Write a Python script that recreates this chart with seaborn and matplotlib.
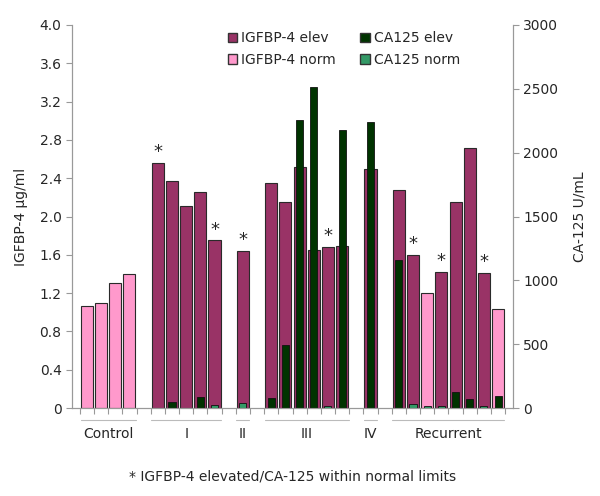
import numpy as np
import pandas as pd
import matplotlib
matplotlib.use("Agg")
import matplotlib.pyplot as plt
import matplotlib.transforms as mtransforms
from matplotlib.patches import Patch
import seaborn as sns

# 數據：每個樣本在 x 軸上的位置（組間留一格空白）
slots = [0, 1, 2, 3,
         5, 6, 7, 8, 9,
         11,
         13, 14, 15, 16, 17, 18,
         20,
         22, 23, 24, 25, 26, 27, 28, 29]
igfbp4 = [1.07, 1.10, 1.31, 1.40,
          2.56, 2.37, 2.11, 2.26, 1.75,
          1.64,
          2.35, 2.15, 2.52, 1.65, 1.68, 1.69,
          2.50,
          2.28, 1.60, 1.20, 1.42, 2.15, 2.72, 1.41, 1.03]
igfbp4_status = ["norm"] * 4 + ["elev"] * 13 + \
                ["elev", "elev", "norm", "elev", "elev", "elev", "elev", "norm"]
ca125 = [np.nan, np.nan, np.nan, np.nan,
         np.nan, 47, np.nan, 88, 23,
         37,
         78, 491, 2253, 2517, 15, 2175,
         2240,
         1159, 34, 18, 13, 123, 68, 13, 91]
ca125_status = ["norm"] * 4 + \
               ["norm", "elev", "norm", "elev", "norm"] + \
               ["norm"] + \
               ["elev", "elev", "elev", "elev", "norm", "elev"] + \
               ["elev"] + \
               ["elev", "norm", "norm", "norm", "elev", "elev", "norm", "elev"]
starred = [5, 9, 11, 17, 23, 25, 28]

groups = ["Control", "I", "II", "III", "IV", "Recurrent"]
group_ranges = [(0, 3), (5, 9), (11, 11), (13, 18), (20, 20), (22, 29)]

left_ticks = [0, 0.4, 0.8, 1.2, 1.6, 2.0, 2.4, 2.8, 3.2, 3.6, 4.0]
left_labels = ["0", "0.4", "0.8", "1.2", "1.6", "2.0", "2.4", "2.8", "3.2", "3.6", "4.0"]
right_ticks = [0, 500, 1000, 1500, 2000, 2500, 3000]

df = pd.DataFrame({"slot": slots, "igfbp4": igfbp4, "igfbp4_status": igfbp4_status,
                   "ca125": ca125, "ca125_status": ca125_status})

sns.set_style("white")
plt.rcParams["font.family"] = ["DejaVu Sans"]
plt.rcParams["font.size"] = 10

c_elev, c_norm = "#993366", "#FF99CC"
g_elev, g_norm = "#003300", "#339966"
grey = "#999999"

fig = plt.figure(figsize=(6, 4.96), dpi=100)
ax = fig.add_axes([0.12, 0.1774, 0.735, 0.7722])

sns.barplot(data=df, x="slot", y="igfbp4", hue="igfbp4_status",
            palette={"elev": c_elev, "norm": c_norm}, dodge=False, saturation=1,
            native_scale=True, width=0.85, edgecolor="#2a2a2a", linewidth=0.8,
            legend=False, ax=ax)

ax2 = ax.twinx()
sns.barplot(data=df.dropna(subset=["ca125"]), x="slot", y="ca125", hue="ca125_status",
            palette={"elev": g_elev, "norm": g_norm}, dodge=False, saturation=1,
            native_scale=True, width=0.5, edgecolor="#111111", linewidth=0.6,
            legend=False, ax=ax2)

ax.set_xlim(-1.05, 30.05)
ax.set_ylim(0, 4.0)
ax2.set_ylim(0, 3000)
ax.set_yticks(left_ticks)
ax.set_yticklabels(left_labels)
ax2.set_yticks(right_ticks)
ax.set_xticks([])
ax.set_xticks(np.arange(-0.5, 30.5, 1.0), minor=True)
ax.tick_params(axis="x", which="minor", length=4, color=grey, width=0.8, direction="out", bottom=True)
ax.tick_params(axis="y", length=4, color=grey, width=0.8, direction="out", left=True, labelsize=10)
ax2.tick_params(axis="y", length=4, color=grey, width=0.8, direction="out", right=True, labelsize=10)
ax.set_xlabel("")
ax.set_ylabel("IGFBP-4 µg/ml", fontsize=10, labelpad=8)
ax2.set_ylabel("CA-125 U/mL", fontsize=10, labelpad=10)

for a in (ax, ax2):
    a.spines["top"].set_visible(False)
    for side in ("left", "right", "bottom"):
        a.spines[side].set_color(grey)
        a.spines[side].set_linewidth(0.8)

# 星號
for s in starred:
    v = df.loc[df["slot"] == s, "igfbp4"].iloc[0]
    ax2.text(s, v / 4.0 * 3000 + 15, "*", ha="center", va="bottom", fontsize=13)

# 分組標籤
trans = mtransforms.blended_transform_factory(ax.transData, ax.transAxes)
for name, (a, b) in zip(groups, group_ranges):
    ax.plot([a - 0.45, b + 0.45], [-0.031, -0.031], color="#bbbbbb", lw=0.8,
            transform=trans, clip_on=False)
    ax.text((a + b) / 2, -0.068, name, ha="center", va="center", fontsize=10, transform=trans)

fig.text(0.4875, 0.04, "* IGFBP-4 elevated/CA-125 within normal limits",
         ha="center", va="center", fontsize=10)

handles = [Patch(facecolor=c_elev, edgecolor="#333333", label="IGFBP-4 elev"),
           Patch(facecolor=c_norm, edgecolor="#333333", label="IGFBP-4 norm"),
           Patch(facecolor=g_elev, edgecolor="#333333", label="CA125 elev"),
           Patch(facecolor=g_norm, edgecolor="#333333", label="CA125 norm")]
fig.legend(handles=handles, ncol=2, loc="upper left", bbox_to_anchor=(0.37, 0.948),
           frameon=False, handlelength=0.7, handleheight=0.7, handletextpad=0.3,
           columnspacing=1.7, labelspacing=0.55, fontsize=10, borderaxespad=0)

fig.savefig("out.png", dpi=100)
